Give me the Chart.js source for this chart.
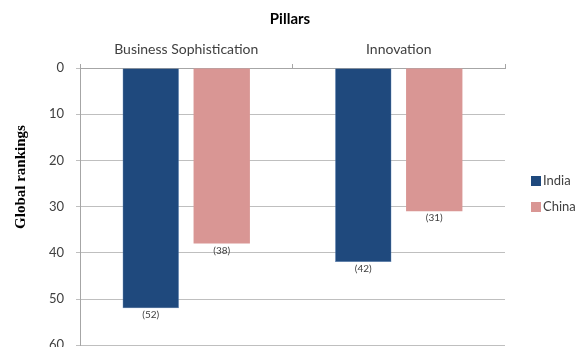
<!DOCTYPE html>
<html>
<head>
<meta charset="utf-8">
<script src="https://cdn.jsdelivr.net/npm/chart.js@4"></script>
<style>
html,body{margin:0;padding:0;background:#fff;overflow:hidden;}
#wrap{width:577px;height:365px;position:relative;}
</style>
</head>
<body>
<div id="wrap"><canvas id="c" width="577" height="365"></canvas></div>
<script>
const categories = ["Business Sophistication", "Innovation"];
const seriesNames = ["India", "China"];
const indiaValues = [52, 42];
const chinaValues = [38, 31];
const yTicks = [0, 10, 20, 30, 40, 50, 60];
const seriesColors = ["#1F497D", "#D99694"];
const chartTitle = "Pillars";
const yTitle = "Global rankings";

const FONT = "Lato, 'Open Sans', sans-serif";

const labelPlugin = {
  id: 'valueLabels',
  afterDatasetsDraw(chart) {
    const ctx = chart.ctx;
    ctx.save();
    ctx.font = "10px " + FONT;
    ctx.fillStyle = "#404040";
    ctx.textAlign = "center";
    ctx.textBaseline = "top";
    chart.data.datasets.forEach((ds, i) => {
      const meta = chart.getDatasetMeta(i);
      meta.data.forEach((bar, j) => {
        ctx.fillText("(" + ds.data[j] + ")", bar.x, bar.y + 2);
      });
    });
    ctx.restore();
  }
};

const textPlugin = {
  id: 'texts',
  afterDraw(chart) {
    const ctx = chart.ctx;
    ctx.save();
    ctx.fillStyle = "#000";
    ctx.textAlign = "center";
    ctx.textBaseline = "middle";
    ctx.font = "bold 15px " + FONT;
    ctx.fillText(chartTitle, 290, 19);
    ctx.font = "bold 15px 'Liberation Serif', 'Times New Roman', serif";
    ctx.translate(21, 177);
    ctx.rotate(-Math.PI / 2);
    ctx.fillText(yTitle, 0, 0);
    ctx.restore();
  }
};

const legendPlugin = {
  id: 'sideLegend',
  afterDraw(chart) {
    const ctx = chart.ctx;
    ctx.save();
    ctx.font = "13px " + FONT;
    ctx.textAlign = "left";
    ctx.textBaseline = "middle";
    chart.data.datasets.forEach((ds, i) => {
      const cy = 181 + i * 26;
      ctx.fillStyle = ds.backgroundColor;
      ctx.fillRect(531, cy - 5, 10, 10);
      ctx.fillStyle = "#404040";
      ctx.fillText(ds.label, 543, cy);
    });
    ctx.restore();
  }
};

new Chart(document.getElementById('c'), {
  type: 'bar',
  data: {
    labels: categories,
    datasets: [
      { label: seriesNames[0], data: indiaValues, backgroundColor: seriesColors[0], borderColor: '#4F7BB5', borderWidth: 0.5,
        categoryPercentage: 0.668, barPercentage: 0.794 },
      { label: seriesNames[1], data: chinaValues, backgroundColor: seriesColors[1], borderWidth: 0,
        categoryPercentage: 0.668, barPercentage: 0.794 }
    ]
  },
  options: {
    responsive: false,
    animation: false,
    layout: { padding: { left: 0, right: 72, top: 34, bottom: 16 } },
    plugins: {
      title: { display: false },
      legend: { display: false },
      tooltip: { enabled: false }
    },
    scales: {
      x: {
        position: 'top',
        afterFit(scale) { scale.height = 34; },
        grid: { offset: true, drawOnChartArea: false, tickLength: 4, color: '#a6a6a6' },
        border: { display: true, color: '#a6a6a6' },
        ticks: { color: '#404040', font: { family: FONT, size: 14 }, padding: 6 }
      },
      y: {
        reverse: true,
        min: 0, max: 60,
        afterFit(scale) { scale.width = 80; },
        afterBuildTicks(scale) { scale.ticks = yTicks.map(v => ({ value: v })); },
        grid: { color: '#bfbfbf', tickLength: 4 },
        border: { display: true, color: '#a6a6a6' },
        ticks: { color: '#404040', font: { family: FONT, size: 13 }, padding: 12 }
      }
    }
  },
  plugins: [labelPlugin, textPlugin, legendPlugin]
});
</script>
</body>
</html>
